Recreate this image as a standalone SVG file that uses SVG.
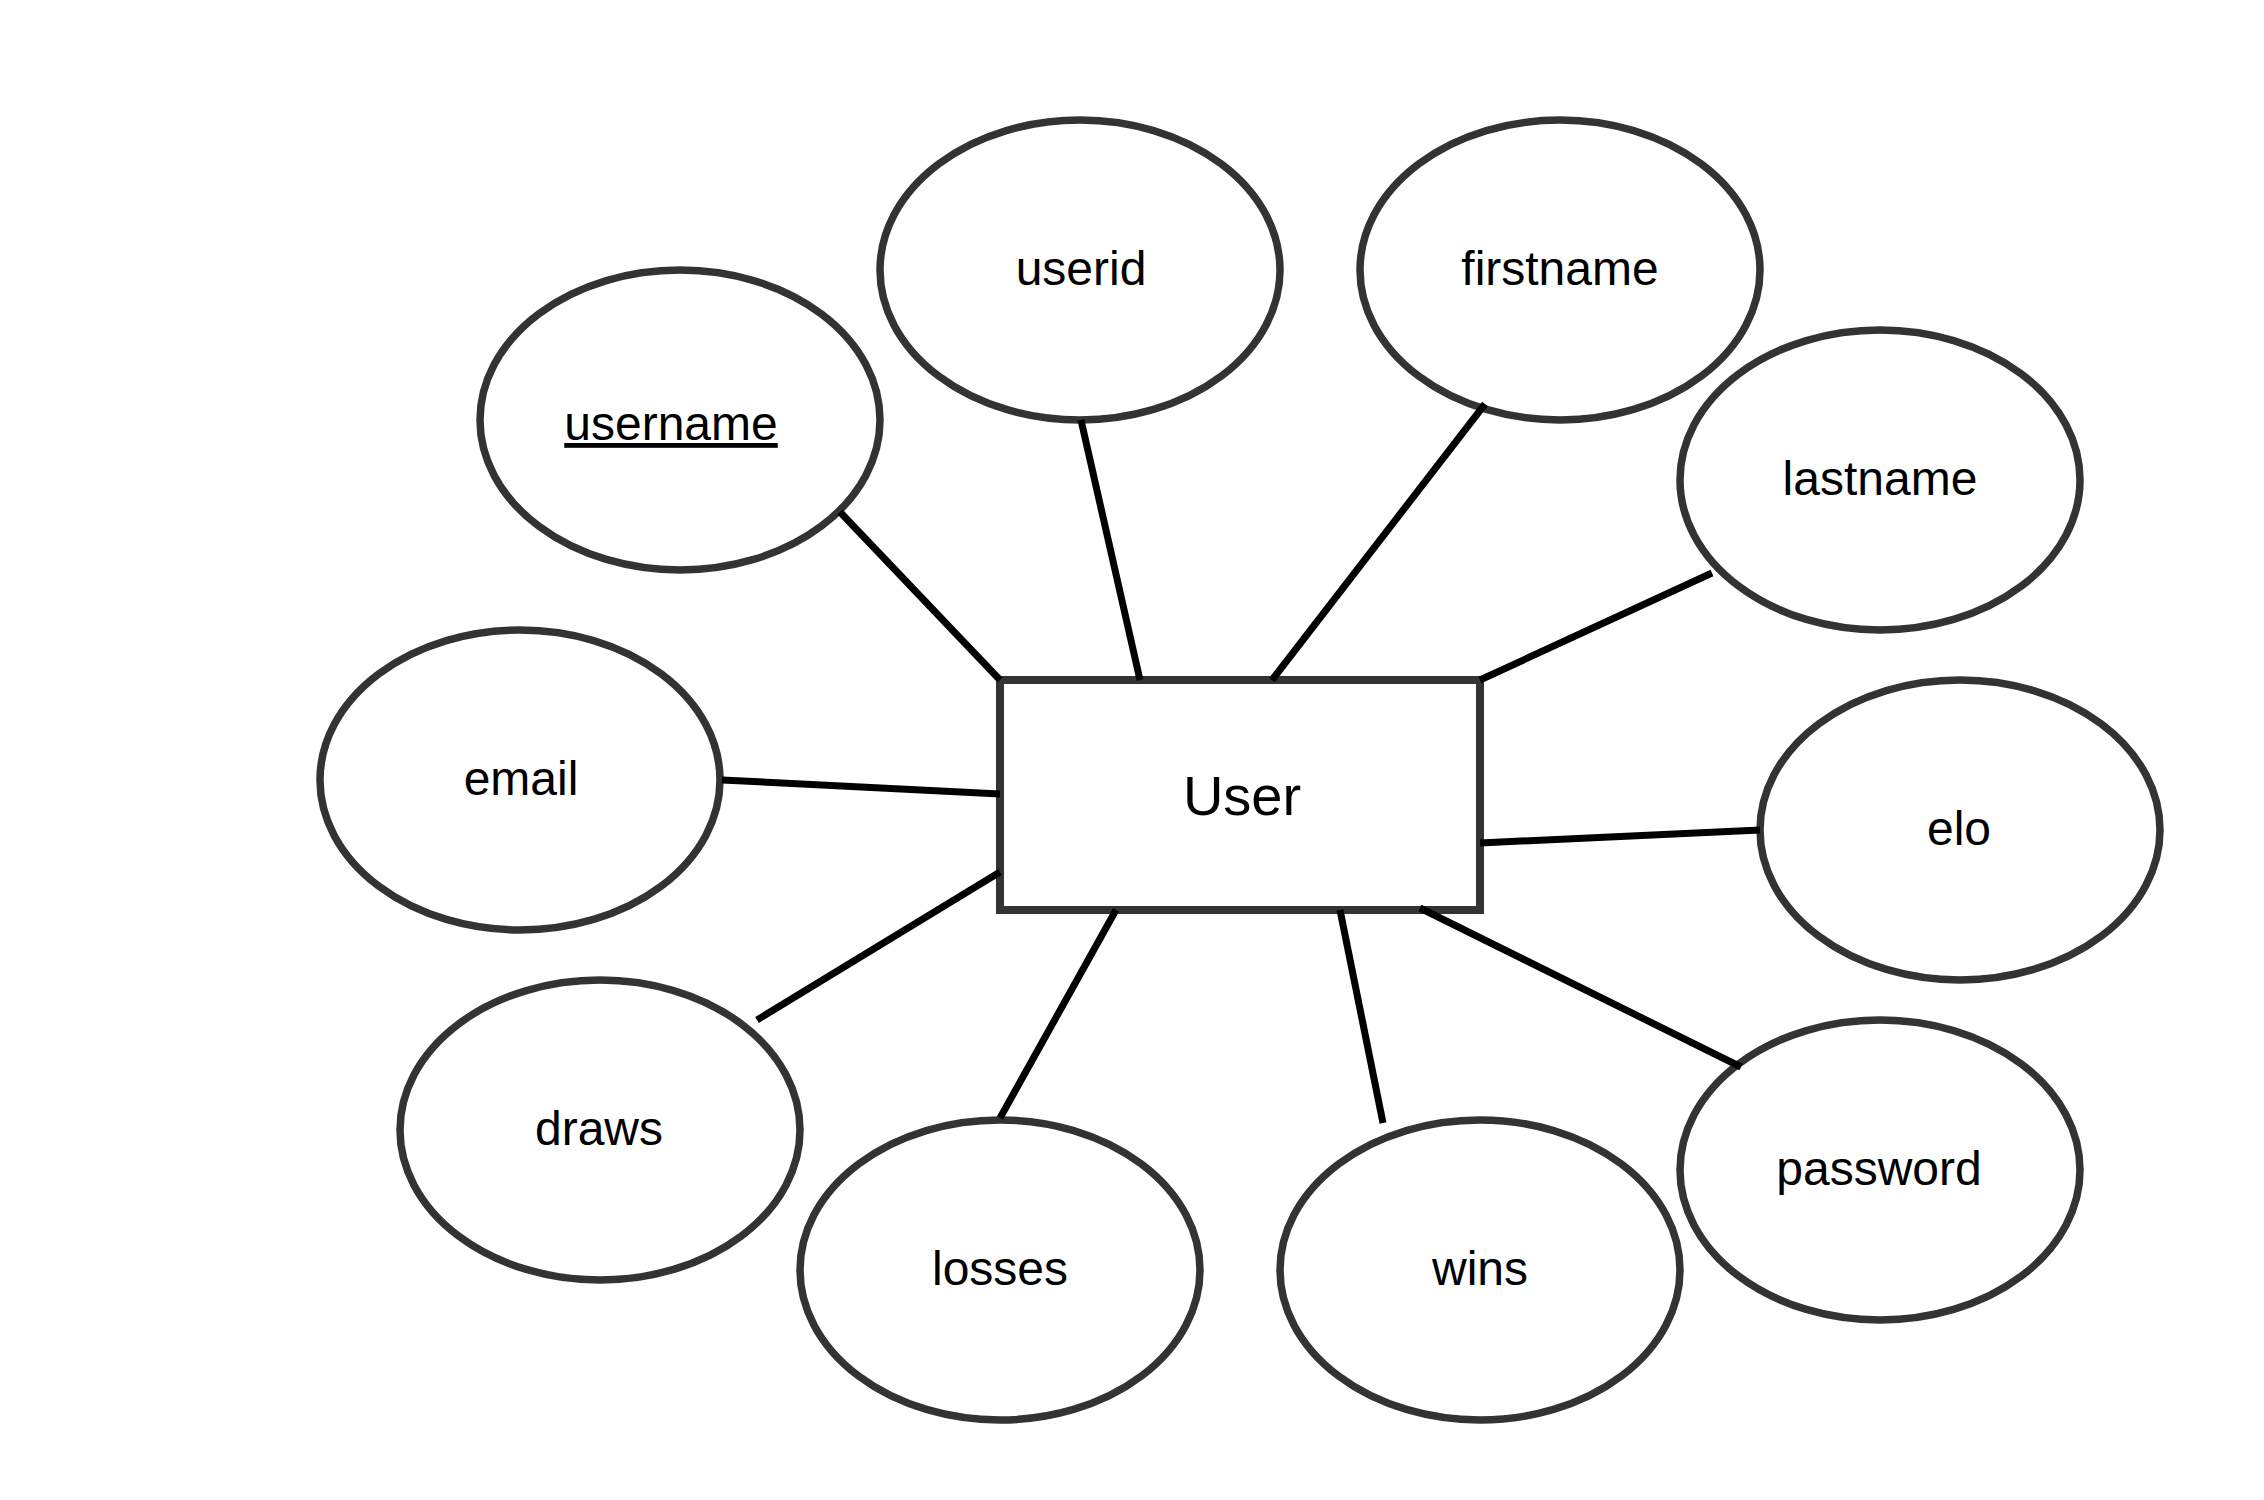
<svg xmlns="http://www.w3.org/2000/svg" width="2264" height="1500" viewBox="0 0 2264 1500">
<style>
.attr{fill:#ffffff;stroke:#333333;stroke-width:7.5}
.ent{fill:#ffffff;stroke:#333333;stroke-width:8}
.lbl{font-family:"Liberation Sans",Arial,sans-serif;font-size:48px;fill:#000000;text-anchor:middle}
.elbl{font-family:"Liberation Sans",Arial,sans-serif;font-size:56px;fill:#000000;text-anchor:middle}
.conn{stroke:#000000;stroke-width:7;fill:none}
</style>
<rect x="0" y="0" width="2264" height="1500" fill="#ffffff"/>
<g id="nodes">
<g id="user"><rect class="ent" x="1000" y="680" width="480" height="230"/><text class="elbl" x="1242" y="815">User</text></g>
<g id="username"><ellipse class="attr" cx="680" cy="420" rx="200" ry="150"/><text class="lbl" x="671" y="440" text-decoration="underline">username</text></g>
<g id="userid"><ellipse class="attr" cx="1080" cy="270" rx="200" ry="150"/><text class="lbl" x="1081" y="285">userid</text></g>
<g id="firstname"><ellipse class="attr" cx="1560" cy="270" rx="200" ry="150"/><text class="lbl" x="1560" y="285">firstname</text></g>
<g id="lastname"><ellipse class="attr" cx="1880" cy="480" rx="200" ry="150"/><text class="lbl" x="1880" y="495">lastname</text></g>
<g id="email"><ellipse class="attr" cx="520" cy="780" rx="200" ry="150"/><text class="lbl" x="521" y="795">email</text></g>
<g id="elo"><ellipse class="attr" cx="1960" cy="830" rx="200" ry="150"/><text class="lbl" x="1959" y="845">elo</text></g>
<g id="draws"><ellipse class="attr" cx="600" cy="1130" rx="200" ry="150"/><text class="lbl" x="599" y="1145">draws</text></g>
<g id="losses"><ellipse class="attr" cx="1000" cy="1270" rx="200" ry="150"/><text class="lbl" x="1000" y="1285">losses</text></g>
<g id="wins"><ellipse class="attr" cx="1480" cy="1270" rx="200" ry="150"/><text class="lbl" x="1480" y="1285">wins</text></g>
<g id="password"><ellipse class="attr" cx="1880" cy="1170" rx="200" ry="150"/><text class="lbl" x="1879" y="1185">password</text></g>
</g>
<g id="connectors">
<line class="conn" x1="840" y1="512" x2="1000" y2="680"/>
<line class="conn" x1="1081" y1="420" x2="1140" y2="680"/>
<line class="conn" x1="1485" y1="404" x2="1272" y2="680"/>
<line class="conn" x1="1712" y1="573" x2="1480" y2="680"/>
<line class="conn" x1="722" y1="780" x2="1000" y2="794"/>
<line class="conn" x1="1480" y1="843" x2="1760" y2="830"/>
<line class="conn" x1="1000" y1="872" x2="757" y2="1020"/>
<line class="conn" x1="1116" y1="910" x2="1000" y2="1118"/>
<line class="conn" x1="1340" y1="910" x2="1383" y2="1123"/>
<line class="conn" x1="1420" y1="908" x2="1741" y2="1067"/>
</g>
</svg>
